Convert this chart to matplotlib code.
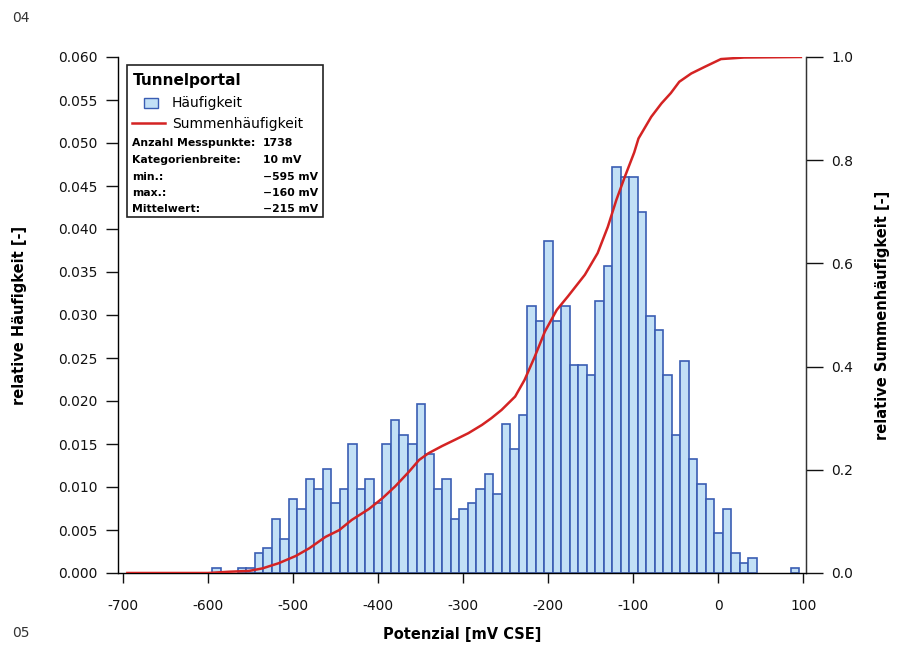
import numpy as np
import matplotlib
matplotlib.use("Agg")
import matplotlib.pyplot as plt
from matplotlib.patches import Rectangle
from matplotlib.lines import Line2D

# ---- data ----
bin_centers = [-590, -560, -550, -540, -530, -520, -510, -500, -490, -480,
               -470, -460, -450, -440, -430, -420, -410, -400, -390, -380,
               -370, -360, -350, -340, -330, -320, -310, -300, -290, -280,
               -270, -260, -250, -240, -230, -220, -210, -200, -190, -180,
               -170, -160, -150, -140, -130, -120, -110, -100, -90, -80,
               -70, -60, -50, -40, -30, -20, -10, 0, 10, 20,
               30, 40, 90]
rel_freq = [0.0006, 0.0006, 0.0006, 0.0023, 0.0029, 0.0063, 0.0040, 0.0086, 0.0075, 0.0109,
            0.0098, 0.0121, 0.0081, 0.0098, 0.0150, 0.0098, 0.0109, 0.0081, 0.0150, 0.0178,
            0.0161, 0.0150, 0.0196, 0.0138, 0.0098, 0.0109, 0.0063, 0.0075, 0.0081, 0.0098,
            0.0115, 0.0092, 0.0173, 0.0144, 0.0184, 0.0311, 0.0293, 0.0386, 0.0293, 0.0311,
            0.0242, 0.0242, 0.0230, 0.0316, 0.0357, 0.0472, 0.0460, 0.0460, 0.0420, 0.0299,
            0.0282, 0.0230, 0.0161, 0.0247, 0.0132, 0.0104, 0.0086, 0.0046, 0.0075, 0.0023,
            0.0012, 0.0017, 0.0006]

cum_x = [-695, -600, -575, -552, -536, -517, -497, -481, -462, -446, -431, -411,
         -395, -380, -364, -352, -341, -325, -310, -294, -278, -267, -255, -239,
         -228, -216, -204, -190, -177, -157, -142, -130, -120, -110, -99, -94,
         -79, -67, -56, -46, -32, -16, 3, 30, 97]
cum_y = [0.0, 0.0, 0.0025, 0.004, 0.009, 0.019, 0.033, 0.048, 0.070, 0.083, 0.103, 0.124,
         0.145, 0.168, 0.196, 0.219, 0.232, 0.246, 0.258, 0.271, 0.287, 0.300, 0.316, 0.342,
         0.374, 0.419, 0.468, 0.510, 0.536, 0.578, 0.620, 0.671, 0.723, 0.768, 0.815, 0.842,
         0.884, 0.910, 0.930, 0.952, 0.968, 0.981, 0.996, 0.999, 1.0]

x_ticks = [-700, -600, -500, -400, -300, -200, -100, 0, 100]
y_ticks = [0.000, 0.005, 0.010, 0.015, 0.020, 0.025, 0.030, 0.035, 0.040, 0.045, 0.050, 0.055, 0.060]
y2_ticks = [0.0, 0.2, 0.4, 0.6, 0.8, 1.0]

legend_title = "Tunnelportal"
info_labels = ["Anzahl Messpunkte:", "Kategorienbreite:", "min.:", "max.:", "Mittelwert:"]
info_values = ["1738", "10 mV", "\u2212595 mV", "\u2212160 mV", "\u2212215 mV"]

# ---- figure ----
W, H = 912, 646
fig = plt.figure(figsize=(W / 100, H / 100), dpi=100)
plt.rcParams['font.family'] = ['DejaVu Sans']

def fx(x):
    return x / W

def fy(y):
    return 1 - y / H

ax_l, ax_r, ax_t, ax_b = 118, 806, 57, 573
ax = fig.add_axes([fx(ax_l), fy(ax_b), fx(ax_r - ax_l), (ax_b - ax_t) / H])

bar_face = "#c2e0f6"
bar_edge = "#3a5db3"
ax.bar(bin_centers, rel_freq, width=10, color=bar_face, edgecolor=bar_edge,
       linewidth=1.2, zorder=2)
ax.set_xlim(-706, 103)
ax.set_ylim(0, 0.06)
ax.set_xticks(x_ticks)
ax.set_xticklabels([str(v) for v in x_ticks])
ax.set_yticks(y_ticks)
ax.set_yticklabels([f"{v:.3f}" for v in y_ticks])
ax.spines['top'].set_visible(False)
for s in ['left', 'bottom', 'right']:
    ax.spines[s].set_color("#333333")
    ax.spines[s].set_linewidth(1.0)
ax.tick_params(axis='y', direction='out', length=9, width=1, pad=6, labelsize=10, colors="#111111")
ax.tick_params(axis='x', direction='out', length=7, width=1, pad=12, labelsize=10, colors="#111111")
ax.set_xlabel("Potenzial [mV CSE]", fontsize=10.5, fontweight='bold', labelpad=10)
ax.set_ylabel("relative Häufigkeit [-]", fontsize=10.5, fontweight='bold', labelpad=22)

ax2 = ax.twinx()
ax2.plot(cum_x, cum_y, color="#d42323", linewidth=1.8, zorder=3)
ax2.set_ylim(0, 1.0)
ax2.set_yticks(y2_ticks)
ax2.set_yticklabels([f"{v:.1f}" for v in y2_ticks])
ax2.spines['top'].set_visible(False)
ax2.spines['right'].set_color("#333333")
ax2.tick_params(axis='y', direction='out', length=12, width=1, pad=6, labelsize=10, colors="#111111")
ax2.set_ylabel("relative Summenhäufigkeit [-]", fontsize=10.5, fontweight='bold', labelpad=16)

# ---- legend box (drawn manually) ----
fig.patches.append(Rectangle((fx(127), fy(217)), fx(323 - 127), (217 - 65) / H,
                             transform=fig.transFigure, facecolor="white",
                             edgecolor="#222222", linewidth=1.2, zorder=5))
fig.text(fx(133), fy(81), legend_title, fontsize=11, fontweight='bold',
         va='center', ha='left', zorder=6)
fig.patches.append(Rectangle((fx(144), fy(108)), fx(14), 10 / H, transform=fig.transFigure,
                             facecolor=bar_face, edgecolor=bar_edge, linewidth=1.0, zorder=6))
fig.text(fx(172), fy(103), "Häufigkeit", fontsize=10, va='center', ha='left', zorder=6)
fig.lines.append(Line2D([fx(132), fx(165)], [fy(123), fy(123)], transform=fig.transFigure,
                        color="#d42323", linewidth=1.8, zorder=6))
fig.text(fx(172), fy(124), "Summenhäufigkeit", fontsize=10, va='center', ha='left', zorder=6)

rows_y = [143, 160, 177, 193, 209]
for i, (lab, val) in enumerate(zip(info_labels, info_values)):
    fig.text(fx(132), fy(rows_y[i]), lab, fontsize=7.8, fontweight='semibold',
             va='center', ha='left', zorder=6)
    if i < 2:
        fig.text(fx(263), fy(rows_y[i]), val, fontsize=7.8, fontweight='semibold',
                 va='center', ha='left', zorder=6)
    else:
        fig.text(fx(318), fy(rows_y[i]), val, fontsize=7.8, fontweight='semibold',
                 va='center', ha='right', zorder=6)

# page markers
fig.text(fx(12), fy(18), "04", fontsize=10, color="#333333", va='center', ha='left')
fig.text(fx(12), fy(633), "05", fontsize=10, color="#333333", va='center', ha='left')

fig.savefig("out.png", dpi=100)
